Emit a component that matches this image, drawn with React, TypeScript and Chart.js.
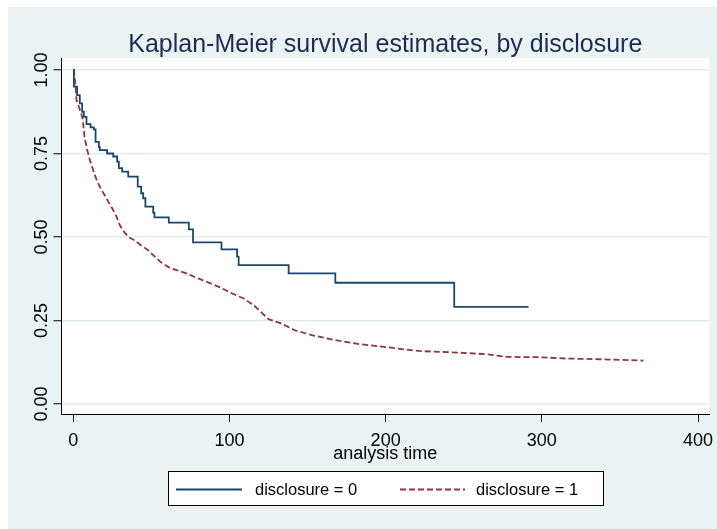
import React, { useEffect, useRef } from "react";
import { Chart, registerables } from "chart.js";

Chart.register(...registerables);

const chartTitle = "Kaplan-Meier survival estimates, by disclosure";
const xAxisTitle = "analysis time";
const xTickValues = [0, 100, 200, 300, 400];
const xTickLabels = ["0", "100", "200", "300", "400"];
const yTickValues = [0, 0.25, 0.5, 0.75, 1];
const yTickLabels = ["0.00", "0.25", "0.50", "0.75", "1.00"];
const seriesNames = ["disclosure = 0", "disclosure = 1"];

// disclosure = 0 (Kaplan-Meier step function)
const time0 = [0, 0.4, 2.5, 4.2, 5.7, 6.8, 8.5, 11.1, 13.2, 14.3, 16.4, 17.0, 21.7, 25.6, 28.1, 29.2, 31.3, 35.2, 41.3, 43.5, 44.8, 46.2, 51.2, 52.0, 61.2, 74.0, 76.7, 94.9, 104.9, 105.9, 137.9, 167.8, 243.9, 291.5];
const surv0 = [1.0, 0.95, 0.925, 0.9, 0.875, 0.86, 0.838, 0.828, 0.822, 0.785, 0.77, 0.76, 0.75, 0.741, 0.726, 0.706, 0.696, 0.681, 0.651, 0.631, 0.616, 0.591, 0.573, 0.559, 0.543, 0.523, 0.484, 0.463, 0.441, 0.416, 0.391, 0.363, 0.291, 0.291];

// disclosure = 1 (many small steps, read as a polyline)
const time1 = [0, 0.4, 1.5, 2.1, 3.6, 5.1, 6.2, 7.2, 9.0, 10.6, 12.1, 13.8, 15.7, 17.9, 20.0, 22.8, 25.6, 27.7, 29.8, 32.4, 35.6, 39.9, 43.0, 47.3, 56, 62, 72, 81.6, 94.2, 100.6, 109.1, 115.5, 120.9, 125.1, 132.6, 142.2, 153.9, 166.7, 183.8, 200.9, 217.9, 224.3, 245.6, 264.8, 269, 277.6, 298.9, 316, 337.3, 365];
const surv1 = [1.0, 1.0, 0.955, 0.91, 0.89, 0.87, 0.85, 0.8, 0.76, 0.731, 0.71, 0.686, 0.663, 0.643, 0.626, 0.603, 0.581, 0.561, 0.536, 0.516, 0.499, 0.489, 0.476, 0.463, 0.425, 0.407, 0.392, 0.373, 0.349, 0.333, 0.316, 0.296, 0.272, 0.254, 0.242, 0.22, 0.205, 0.192, 0.179, 0.17, 0.16, 0.158, 0.154, 0.149, 0.146, 0.141, 0.14, 0.136, 0.134, 0.13];

const BLUE = "#1a476f";
const RED = "#90353b";
const BG = "#eaf2f3";
const GRID = "#e2ecef";
const TITLE_COLOR = "#1e2c55";
const FONT = '"Liberation Sans", Arial, Helvetica, sans-serif';

const decoPlugin = {
  id: "deco",
  beforeDraw(chart: any) {
    const { ctx, chartArea: a } = chart;
    ctx.save();
    ctx.fillStyle = "#ffffff";
    ctx.fillRect(a.left, a.top, a.right - a.left, a.bottom - a.top);
    ctx.restore();
  },
  afterDraw(chart: any) {
    const { ctx, chartArea: a, scales } = chart;
    const xs = scales.x;
    const ys = scales.y;
    const cx = (a.left + a.right) / 2;
    ctx.save();
    ctx.textBaseline = "alphabetic";
    ctx.textAlign = "center";
    // title
    ctx.fillStyle = TITLE_COLOR;
    ctx.font = `25px ${FONT}`;
    ctx.fillText(chartTitle, cx, 45);
    // x tick labels
    ctx.fillStyle = "#000";
    ctx.font = `18px ${FONT}`;
    xTickValues.forEach((v, i) => {
      ctx.fillText(xTickLabels[i], xs.getPixelForValue(v), a.bottom + 32);
    });
    // x axis title
    ctx.fillText(xAxisTitle, cx, a.bottom + 45);
    // y tick labels (rotated)
    yTickValues.forEach((v, i) => {
      ctx.save();
      ctx.translate(a.left - 14.5, ys.getPixelForValue(v));
      ctx.rotate(-Math.PI / 2);
      ctx.fillText(yTickLabels[i], 0, 0);
      ctx.restore();
    });
    // legend
    const bx = 160, by = 464, bw = 435, bh = 34;
    ctx.fillStyle = "#ffffff";
    ctx.fillRect(bx, by, bw, bh);
    ctx.strokeStyle = "#000";
    ctx.lineWidth = 1;
    ctx.strokeRect(bx + 0.5, by + 0.5, bw, bh);
    const ly = 482.5;
    ctx.lineWidth = 1.8;
    ctx.strokeStyle = BLUE;
    ctx.beginPath();
    ctx.moveTo(168, ly);
    ctx.lineTo(234, ly);
    ctx.stroke();
    ctx.strokeStyle = RED;
    ctx.setLineDash([6, 3]);
    ctx.beginPath();
    ctx.moveTo(392, ly);
    ctx.lineTo(457, ly);
    ctx.stroke();
    ctx.setLineDash([]);
    ctx.fillStyle = "#000";
    ctx.font = `16.5px ${FONT}`;
    ctx.textAlign = "left";
    ctx.fillText(seriesNames[0], 247, 488);
    ctx.fillText(seriesNames[1], 468, 488);
    ctx.restore();
  },
};

export default function App() {
  const ref = useRef<HTMLCanvasElement | null>(null);
  useEffect(() => {
    if (!ref.current) return;
    const chart = new Chart(ref.current, {
      type: "line",
      data: {
        datasets: [
          {
            label: seriesNames[0],
            data: time0.map((t, i) => ({ x: t, y: surv0[i] })),
            borderColor: BLUE,
            borderWidth: 1.8,
            pointRadius: 0,
            stepped: "before",
            fill: false,
          },
          {
            label: seriesNames[1],
            data: time1.map((t, i) => ({ x: t, y: surv1[i] })),
            borderColor: RED,
            borderWidth: 1.8,
            borderDash: [6, 3],
            pointRadius: 0,
            tension: 0,
            fill: false,
          },
        ],
      },
      options: {
        animation: false,
        responsive: false,
        devicePixelRatio: 1,
        layout: { padding: { top: 51, right: 8, bottom: 55, left: 0 } },
        plugins: { legend: { display: false }, title: { display: false }, tooltip: { enabled: false } },
        scales: {
          x: {
            type: "linear",
            min: -7.5,
            max: 407,
            afterBuildTicks: (s: any) => {
              s.ticks = xTickValues.map((v) => ({ value: v }));
            },
            afterFit: (s: any) => {
              s.height = 60;
            },
            ticks: { display: false },
            grid: { drawOnChartArea: false, drawTicks: true, tickLength: 8, tickColor: "#000", tickWidth: 1 },
            border: { display: true, color: "#000", width: 1 },
          },
          y: {
            type: "linear",
            min: -0.03,
            max: 1.036,
            afterBuildTicks: (s: any) => {
              s.ticks = yTickValues.map((v) => ({ value: v }));
            },
            afterFit: (s: any) => {
              s.width = 53.5;
            },
            ticks: { display: false },
            grid: { color: GRID, lineWidth: 1.5, drawTicks: true, tickLength: 8, tickColor: "#000", tickWidth: 1 },
            border: { display: true, color: "#000", width: 1 },
          },
        },
      },
      plugins: [decoPlugin],
    });
    return () => chart.destroy();
  }, []);
  return (
    <div style={{ position: "absolute", left: 8, top: 7, width: 709, height: 522, background: BG, overflow: "hidden" }}>
      <canvas ref={ref} width={709} height={522} style={{ display: "block" }} />
    </div>
  );
}
